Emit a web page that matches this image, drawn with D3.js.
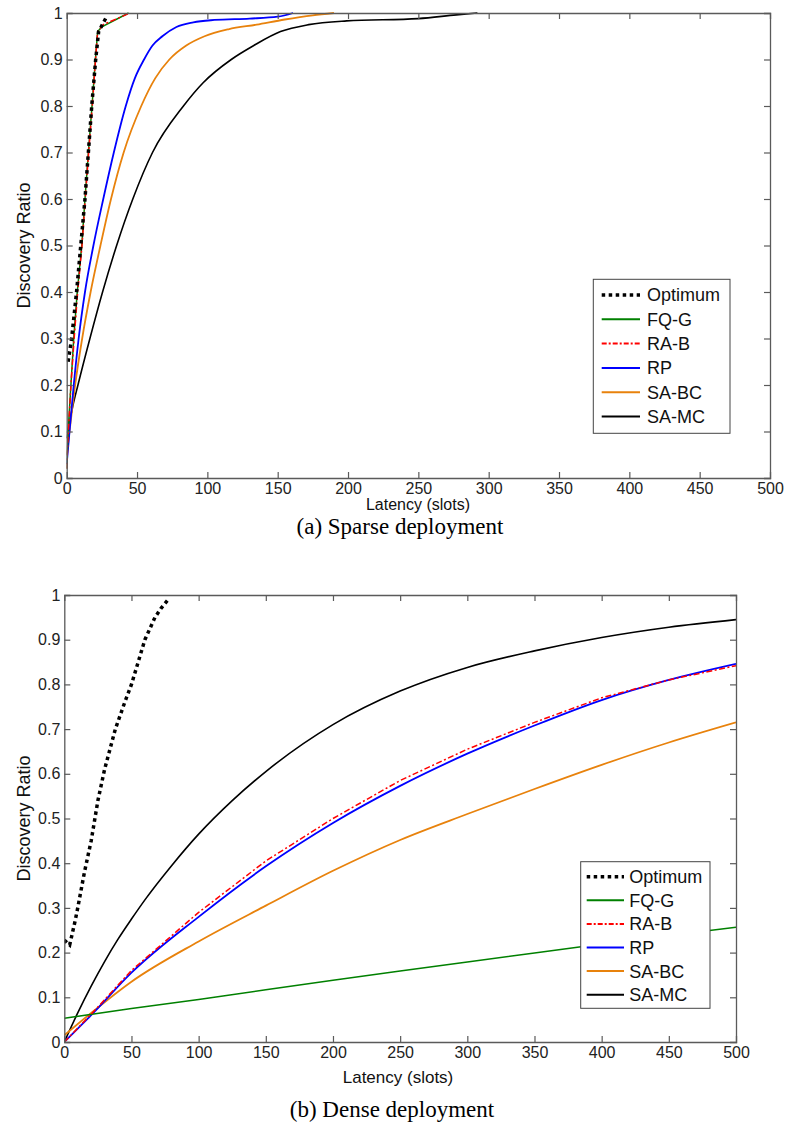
<!DOCTYPE html>
<html>
<head>
<meta charset="utf-8">
<script src="https://cdn.jsdelivr.net/npm/d3@7"></script>
<style>
  body { margin: 0; background: #fff; }
  svg { display: block; }
</style>
</head>
<body>
<svg id="chart" width="786" height="1123"></svg>
<script>
// ---------- DATA ----------
const seriesNames = ["Optimum", "FQ-G", "RA-B", "RP", "SA-BC", "SA-MC"];
const xTicks = [0, 50, 100, 150, 200, 250, 300, 350, 400, 450, 500];
const yTicks = [0, 0.1, 0.2, 0.3, 0.4, 0.5, 0.6, 0.7, 0.8, 0.9, 1];

// (a) Sparse deployment: [latency, ratio]
const sparseOptimum = [[1,0.25],[3.5,0.3],[7,0.4],[10,0.5],[13,0.6],[15.4,0.7],[17.8,0.8],[20.6,0.9],[22.7,0.96],[28,0.99]];
const sparseFQG = [[0,0.02],[1,0.1],[3,0.2],[5,0.3],[7.5,0.4],[10.7,0.5],[13,0.6],[15.4,0.7],[18,0.8],[20.4,0.9],[22,0.96],[25,0.97],[44,1]];
const sparseRAB = [[0,0.02],[1,0.09],[3,0.2],[5.3,0.3],[7.8,0.4],[10.9,0.5],[13.2,0.6],[15.6,0.7],[18.2,0.8],[20.5,0.9],[22,0.96],[26,0.975],[45,1]];
const sparseRP = [[0,0.03],[2,0.1],[5,0.2],[8.5,0.3],[13,0.4],[19,0.5],[26,0.6],[33.5,0.7],[42,0.8],[48.5,0.86],[55,0.9],[61,0.93],[68,0.95],[78,0.97],[90,0.98],[105,0.985],[130,0.988],[150,0.992],[161,1]];
const sparseSABC = [[0,0.05],[2,0.1],[6,0.2],[11,0.3],[17,0.4],[24,0.5],[31.5,0.6],[40.5,0.7],[53,0.8],[63,0.86],[73,0.9],[85,0.93],[98,0.95],[115,0.965],[135,0.975],[155,0.986],[175,0.995],[190,1]];
const sparseSAMC = [[0,0.085],[4,0.15],[8,0.2],[16.5,0.3],[25.5,0.4],[35.5,0.5],[47,0.6],[61,0.7],[83,0.8],[97,0.85],[117,0.9],[133,0.93],[152,0.96],[172,0.975],[199,0.983],[250,0.988],[277,0.996],[292,1]];

// (b) Dense deployment
const denseOptimum = [[0,0.228],[4,0.217],[8,0.27],[10,0.3],[15,0.38],[20,0.45],[25,0.54],[30,0.61],[38,0.7],[45,0.76],[50,0.8],[55,0.85],[60,0.9],[67.5,0.95],[72,0.97],[77.4,0.99]];
const denseFQG = [[0,0.053],[50,0.075],[100,0.095],[150,0.117],[200,0.138],[250,0.159],[300,0.179],[350,0.199],[400,0.219],[450,0.238],[500,0.257]];
const denseRAB = [[0,0],[20,0.062],[50,0.16],[100,0.29],[150,0.405],[200,0.5],[250,0.585],[300,0.655],[350,0.715],[400,0.77],[450,0.81],[500,0.842]];
const denseRP = [[0,0],[10,0.03],[20,0.06],[50,0.155],[100,0.28],[150,0.393],[200,0.49],[250,0.573],[300,0.645],[350,0.708],[400,0.765],[450,0.81],[500,0.846]];
const denseSABC = [[0,0.015],[20,0.065],[50,0.135],[100,0.225],[150,0.305],[200,0.383],[250,0.452],[300,0.51],[350,0.566],[400,0.62],[450,0.67],[500,0.715]];
const denseSAMC = [[0,0],[10,0.065],[20,0.125],[30,0.18],[40,0.23],[50,0.275],[60,0.318],[80,0.395],[100,0.465],[125,0.54],[150,0.605],[200,0.71],[250,0.785],[300,0.838],[350,0.875],[400,0.905],[450,0.928],[500,0.945]];

// ---------- STYLES ----------
const styles = {
  "Optimum": { color: "#000", width: 3.5, dash: "3.5,3.5", curve: d3.curveLinear },
  "FQ-G":    { color: "#008000", width: 1.5, dash: null, curve: d3.curveLinear },
  "RA-B":    { color: "#ff0000", width: 1.5, dash: "6,2.5,2,2.5", curve: d3.curveLinear },
  "RP":      { color: "#0000ff", width: 1.8, dash: null, curve: d3.curveMonotoneX },
  "SA-BC":   { color: "#e8820c", width: 1.8, dash: null, curve: d3.curveMonotoneX },
  "SA-MC":   { color: "#000", width: 1.6, dash: null, curve: d3.curveMonotoneX }
};

const svg = d3.select("#chart");
const axisColor = "#5a5a5a";
const font = "Liberation Sans, Arial, sans-serif";

function drawChart(cfg) {
  const x = d3.scaleLinear().domain([0, 500]).range([cfg.x0, cfg.x1]);
  const y = d3.scaleLinear().domain([0, 1]).range([cfg.y0, cfg.y1]);
  const g = svg.append("g");

  const clipId = "clip" + cfg.id;
  svg.append("clipPath").attr("id", clipId).append("rect")
    .attr("x", cfg.x0).attr("y", cfg.y1 - 3).attr("width", cfg.x1 - cfg.x0).attr("height", cfg.y0 - cfg.y1 + 3);

  const data = cfg.data;
  const order = ["SA-MC", "SA-BC", "RP", "FQ-G", "RA-B", "Optimum"];
  order.forEach(name => {
    const st = styles[name];
    const line = d3.line().x(d => x(d[0])).y(d => y(d[1])).curve(st.curve);
    g.append("path").datum(data[name])
      .attr("d", line)
      .attr("fill", "none")
      .attr("stroke", st.color)
      .attr("stroke-width", st.width)
      .attr("stroke-dasharray", st.dash)
      .attr("clip-path", `url(#${clipId})`);
  });

  const tickLen = 6;
  const bottom = d3.axisBottom(x).tickValues(xTicks).tickSize(-tickLen).tickPadding(5).tickFormat(d3.format("d"));
  const top = d3.axisTop(x).tickValues(xTicks).tickSize(-tickLen).tickFormat("");
  const left = d3.axisLeft(y).tickValues(yTicks).tickSize(-tickLen).tickPadding(4).tickFormat(d => d === 0 || d === 1 ? String(d) : d3.format(".1f")(d));
  const right = d3.axisRight(y).tickValues(yTicks).tickSize(-tickLen).tickFormat("");

  const gb = g.append("g").attr("transform", `translate(0,${cfg.y0})`).call(bottom);
  const gt = g.append("g").attr("transform", `translate(0,${cfg.y1})`).call(top);
  const gl = g.append("g").attr("transform", `translate(${cfg.x0},0)`).call(left);
  const gr = g.append("g").attr("transform", `translate(${cfg.x1},0)`).call(right);
  [gb, gt, gl, gr].forEach(a => {
    a.selectAll("path.domain").attr("stroke", axisColor).attr("stroke-width", 1.3);
    a.selectAll(".tick line").attr("stroke", axisColor).attr("stroke-width", 1.2);
    a.selectAll(".tick text").attr("fill", "#222").style("font-family", font).style("font-size", "16px");
  });
  [gb, gt].forEach(a => a.selectAll(".tick line").filter(d => d === 0 || d === 500).remove());
  [gl, gr].forEach(a => a.selectAll(".tick line").filter(d => d === 0 || d === 1).remove());

  g.append("text").attr("x", cfg.xLabelX).attr("y", cfg.xLabelY).attr("text-anchor", "middle")
    .style("font-family", font).style("font-size", cfg.xLabelSize).attr("fill", "#111").text("Latency (slots)");
  g.append("text").attr("transform", `translate(${cfg.yLabelX},${(cfg.y0 + cfg.y1) / 2}) rotate(-90)`)
    .attr("text-anchor", "middle").attr("dy", "0.35em").style("font-family", font).style("font-size", "18px").attr("fill", "#111")
    .text("Discovery Ratio");

  g.append("text").attr("x", cfg.capX).attr("y", cfg.capY).attr("text-anchor", "middle")
    .style("font-family", "Liberation Serif, Times New Roman, serif").style("font-size", "23px").attr("fill", "#000")
    .text(cfg.caption);

  const L = cfg.legend;
  const lg = g.append("g");
  lg.append("rect").attr("x", L.x).attr("y", L.y).attr("width", L.w).attr("height", L.h)
    .attr("fill", "#fff").attr("stroke", "#444").attr("stroke-width", 1);
  seriesNames.forEach((name, i) => {
    const st = styles[name];
    const yy = L.y + L.first + i * L.step;
    lg.append("line").attr("x1", L.lx1).attr("x2", L.lx2).attr("y1", yy).attr("y2", yy)
      .attr("stroke", st.color).attr("stroke-width", name === "Optimum" ? 3.5 : 2)
      .attr("stroke-dasharray", name === "Optimum" ? "3.5,3.5" : (name === "RA-B" ? "5,2,2,2" : null));
    lg.append("text").attr("x", L.tx).attr("y", yy).attr("dy", "0.36em")
      .style("font-family", font).style("font-size", "18px").attr("fill", "#111").text(name);
  });
}

drawChart({
  id: "a", x0: 66.7, x1: 770, y0: 478, y1: 13,
  data: { "Optimum": sparseOptimum, "FQ-G": sparseFQG, "RA-B": sparseRAB, "RP": sparseRP, "SA-BC": sparseSABC, "SA-MC": sparseSAMC },
  xLabelX: 418, xLabelY: 510, xLabelSize: "16px", yLabelX: 24,
  caption: "(a) Sparse deployment", capX: 400, capY: 534,
  legend: { x: 593.3, y: 279.3, w: 136.7, h: 154, first: 15.7, step: 24.3, lx1: 601.7, lx2: 640, tx: 647 }
});

drawChart({
  id: "b", x0: 64.3, x1: 736, y0: 1042, y1: 595,
  data: { "Optimum": denseOptimum, "FQ-G": denseFQG, "RA-B": denseRAB, "RP": denseRP, "SA-BC": denseSABC, "SA-MC": denseSAMC },
  xLabelX: 398, xLabelY: 1083, xLabelSize: "17px", yLabelX: 24,
  caption: "(b) Dense deployment", capX: 392, capY: 1117,
  legend: { x: 580.7, y: 861.7, w: 129.3, h: 146.6, first: 15, step: 23.6, lx1: 586.7, lx2: 624, tx: 629.3 }
});
</script>
</body>
</html>
